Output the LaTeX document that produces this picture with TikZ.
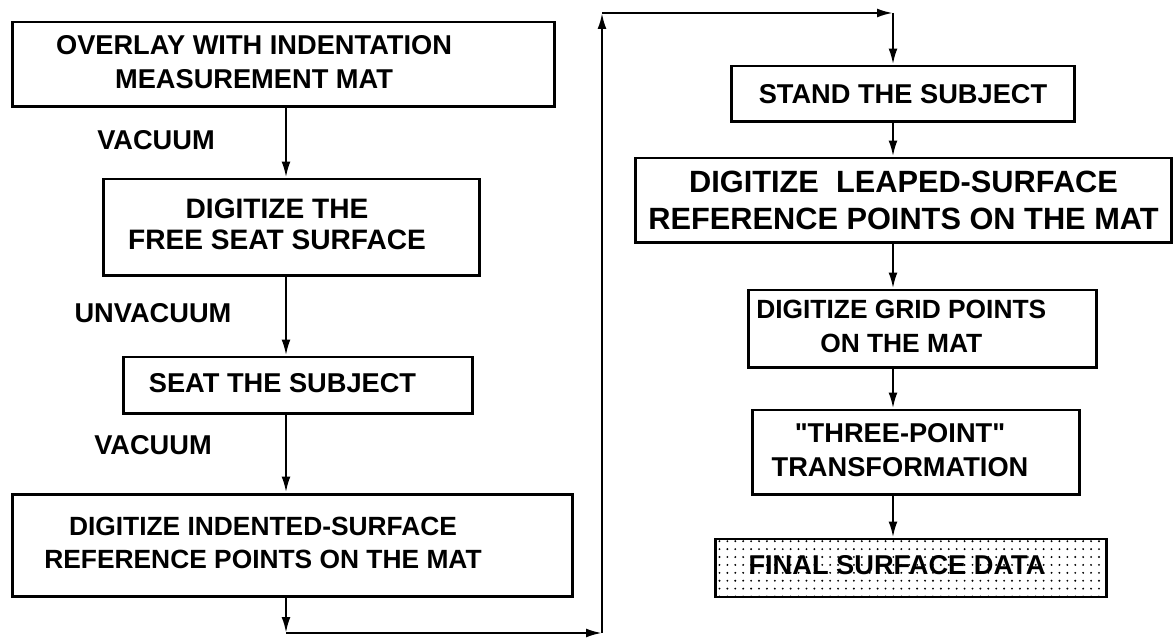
\documentclass[tikz,border=0pt]{standalone}
\usepackage{fontspec}
\setmainfont{Liberation Sans}[Ligatures=TeXOff]
\usetikzlibrary{arrows.meta,patterns.meta}

% text block pushed a little to the left inside its box
\newcommand{\shifttxt}[2]{\begin{tabular}{@{}c@{}}#2\end{tabular}\hspace*{#1}}

\begin{document}
\begin{tikzpicture}[
x=0.02cm, y=-0.02cm,
stepbox/.style={rectangle, draw, line width=1.7pt, inner sep=0pt, align=center, font=\bfseries\fontsize{15.5}{19.5}\selectfont},
result/.style={stepbox, pattern={Dots[distance=4.5pt,radius=0.6pt]}},
lbl/.style={font=\bfseries\fontsize{15.5}{19.5}\selectfont},
arr/.style={line width=1.3pt, -{Latex[length=9pt,width=5pt]}},
]
\useasboundingbox (0,0) rectangle (1176,644);

% Seat side
\node[stepbox, minimum width=10.86cm, minimum height=1.7cm] (ovl) at (283.5,64.5) {\shifttxt{1.18cm}{OVERLAY WITH INDENTATION\\MEASUREMENT MAT}};
\node[stepbox, minimum width=7.54cm, minimum height=1.94cm, font=\bfseries\fontsize{16}{17.5}\selectfont] (free) at (291.5,227.5) {\shifttxt{0.58cm}{DIGITIZE THE\\FREE SEAT SURFACE}};
\node[stepbox, minimum width=7cm, minimum height=1.14cm] (seat) at (298,385.5) {\shifttxt{0.62cm}{SEAT THE SUBJECT}};
\node[stepbox, minimum width=11.22cm, minimum height=2.06cm, font=\bfseries\fontsize{15}{19}\selectfont] (ind) at (292.5,545.5) {\shifttxt{1.18cm}{DIGITIZE INDENTED-SURFACE\\REFERENCE POINTS ON THE MAT}};

\node[lbl] (vac1) at (156,140) {VACUUM};
\node[lbl] (unvac) at (153,313) {UNVACUUM};
\node[lbl] (vac2) at (153,445) {VACUUM};

% Standing side
\node[stepbox, minimum width=6.88cm, minimum height=1.12cm] (stand) at (903,94) {STAND THE SUBJECT};
\node[stepbox, minimum width=10.74cm, minimum height=1.7cm, font=\bfseries\fontsize{17.5}{21.5}\selectfont] (leaped) at (903.5,200.5) {DIGITIZE\ \ LEAPED-SURFACE\\REFERENCE POINTS ON THE MAT};
\node[stepbox, minimum width=6.98cm, minimum height=1.56cm, font=\bfseries\fontsize{15}{19}\selectfont] (grid) at (922.5,329) {\shifttxt{0.85cm}{DIGITIZE GRID POINTS\\ON THE MAT}};
\node[stepbox, minimum width=6.56cm, minimum height=1.7cm] (three) at (916,452.5) {\shifttxt{0.64cm}{"THREE-POINT"\\TRANSFORMATION}};
\node[result, minimum width=7.84cm, minimum height=1.16cm] (final) at (911,568) {\shifttxt{0.56cm}{FINAL SURFACE DATA}};

% Connector columns and corners
\coordinate (lx) at (286,0);
\coordinate (rx) at (893,0);
\coordinate (c1) at (286,633);
\coordinate (c2) at (602,633);
\coordinate (c3) at (602,13);
\coordinate (c4) at (893,13);

\draw[arr] (ovl.south -| lx) -- (free.north -| lx);
\draw[arr] (free.south -| lx) -- (seat.north -| lx);
\draw[arr] (seat.south -| lx) -- (ind.north -| lx);
\draw[arr] (ind.south -| lx) -- (c1);
\draw[arr] (c1) -- (c2);
\draw[arr] (c2) -- (c3);
\draw[arr] (c3) -- (c4);
\draw[arr] (c4) -- (stand.north -| c4);
\draw[arr] (stand.south -| rx) -- (leaped.north -| rx);
\draw[arr] (leaped.south -| rx) -- (grid.north -| rx);
\draw[arr] (grid.south -| rx) -- (three.north -| rx);
\draw[arr] (three.south -| rx) -- (final.north -| rx);

\end{tikzpicture}
\end{document}
